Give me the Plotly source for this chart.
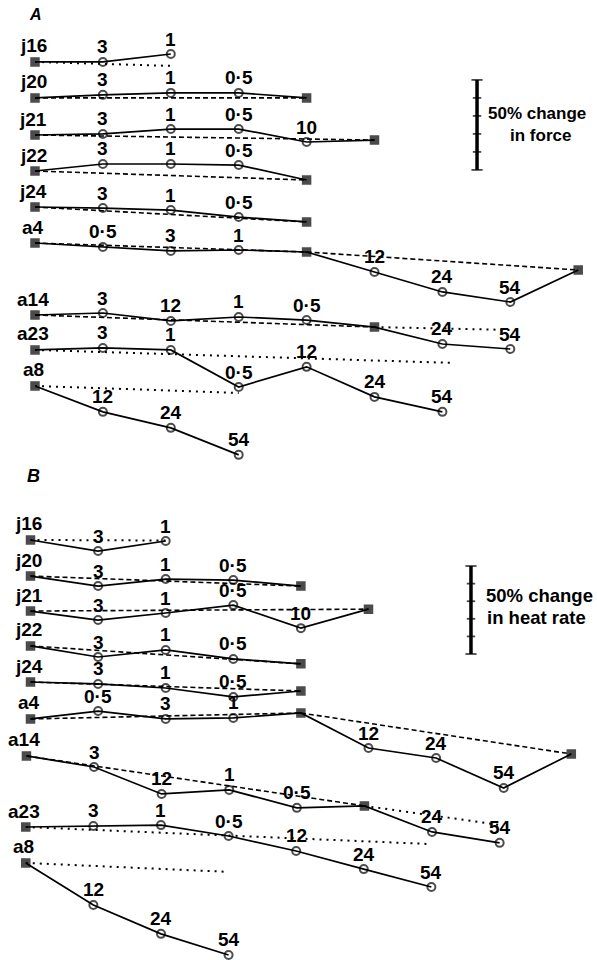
import plotly.graph_objects as go

# ---------------- data ----------------
rows = ["j16", "j20", "j21", "j22", "j24", "a4", "a14", "a23", "a8"]

# concentration applied at each successive measurement ("" = control, filled symbol)
conc = [
    ["", "3", "1"],
    ["", "3", "1", "0·5", ""],
    ["", "3", "1", "0·5", "10", ""],
    ["", "3", "1", "0·5", ""],
    ["", "3", "1", "0·5", ""],
    ["", "0·5", "3", "1", "", "12", "24", "54", ""],
    ["", "3", "12", "1", "0·5", "", "24", "54"],
    ["", "3", "1", "0·5", "12", "24", "54"],
    ["", "12", "24", "54"],
]

# Panel A: % change in force relative to the first control
force_pct = [
    [0, 0, 4.4],
    [0, 1.7, 2.8, 2.8, 0],
    [0, 0.6, 3.3, 3.3, -3.9, -2.8],
    [0, 3.9, 3.9, 3.3, -5.0],
    [0, -0.6, -1.7, -5.6, -8.3],
    [0, -2.2, -4.4, -3.9, -5.0, -16.1, -27.2, -32.8, -15.0],
    [0, 1.1, -3.3, -1.1, -2.8, -6.7, -16.1, -18.9],
    [0, 1.1, 0, -20.6, -9.4, -26.1, -34.4],
    [0, -14.4, -23.3, -38.3],
]

# Panel B: % change in heat rate relative to the first control
heat_pct = [
    [0, -6.3, -0.6],
    [0, -5.7, -1.7, -2.3, -5.7],
    [0, -5.1, -1.1, 3.4, -9.7, 1.1],
    [0, -6.3, -2.3, -7.4, -10.2],
    [0, -1.1, -3.4, -8.5, -5.1],
    [0, 4.5, 0, 0.6, 3.4, -16.5, -22.2, -39.2, -19.9],
    [0, -6.3, -21.6, -19.3, -29.5, -28.4, -43.2, -49.4],
    [0, 0.6, 1.1, -5.1, -13.6, -23.9, -34.1],
    [0, -23.9, -40.3, -52.3],
]

# dotted drift lines: start point index, end column, end value (%)
force_drift_from = [0, None, None, None, None, None, 5, 0, 0]
force_drift_to = [2, None, None, None, None, None, 7, 6.13, 3]
force_drift_end = [-2.2, None, None, None, None, None, -8.3, -7.2, -3.9]

heat_drift_from = [0, None, None, None, None, None, 5, 0, 0]
heat_drift_to = [2, None, None, None, None, None, 7, 6.0, 3]
heat_drift_end = [-0.3, None, None, None, None, None, -39.2, -9.7, -5.1]

scale_pct = [0, 10, 20, 30, 40, 50]

# ---------------- layout (positions) ----------------
W, H = 597, 960
A_px_per_col, A_x0 = 67.9, 35.0
B_px_per_col, B_x0 = 67.6, 30.5
A_px_per_pct, B_px_per_pct = 1.8, 1.76

A_base = [-34.4, -54.4, -75.0, -95.0, -115.0, -135.0, -175.0, -194.4, -214.4]
B_base = [-306.8, -327.3, -347.2, -367.0, -387.5, -408.5, -429.5, -469.9, -490.3]
A_dx = [0] * 9
B_dx = [0, 0, 0, 0, 0, 0, -0.06, -0.07, -0.07]

FONT = "Liberation Sans, Arial, sans-serif"
LBL = 19
YSH = 15
WEIGHT = "bold"

fig = go.Figure()
annotations = []


def lab_font(size):
    return dict(family=FONT, size=size, color="black", weight=WEIGHT)


def panel(pct, base, dx, dfrom, dto, dend, xa, ya):
    xr = "x" if xa == "x" else "x2"
    yr = "y" if ya == "y" else "y2"
    for i, name in enumerate(rows):
        vals = pct[i]
        labs = conc[i]
        xs = [k + dx[i] for k in range(len(vals))]
        ys = [base[i] + v for v in vals]
        ctrl = [k for k, l in enumerate(labs) if l == ""]
        # dashed lines joining controls
        for a, b in zip(ctrl[:-1], ctrl[1:]):
            fig.add_trace(go.Scatter(
                x=[xs[a], xs[b]], y=[ys[a], ys[b]], mode="lines",
                line=dict(color="black", width=1.6, dash="5px,3px"),
                xaxis=xa, yaxis=ya, hoverinfo="skip", showlegend=False))
        # dotted drift line
        if dfrom[i] is not None:
            k = dfrom[i]
            fig.add_trace(go.Scatter(
                x=[xs[k], dto[i] + dx[i]], y=[ys[k], base[i] + dend[i]],
                mode="lines",
                line=dict(color="black", width=2, dash="2px,5px"),
                xaxis=xa, yaxis=ya, hoverinfo="skip", showlegend=False))
        # solid line with markers
        symbols = ["square" if l == "" else "circle-open" for l in labs]
        sizes = [8 if l == "" else 8 for l in labs]
        lw = [1.5 if l == "" else 2 for l in labs]
        fig.add_trace(go.Scatter(
            x=xs, y=ys, mode="lines+markers",
            line=dict(color="black", width=1.7),
            marker=dict(symbol=symbols, size=sizes, color="black",
                        line=dict(color="black", width=lw)),
            xaxis=xa, yaxis=ya, hoverinfo="skip", showlegend=False))
        # labels
        annotations.append(dict(x=xs[0], y=ys[0], xref=xr, yref=yr, text=name,
                                showarrow=False, yshift=YSH + 1, xshift=-2,
                                font=lab_font(LBL)))
        for k, l in enumerate(labs):
            if l:
                annotations.append(dict(x=xs[k], y=ys[k], xref=xr, yref=yr,
                                        text=l, showarrow=False, yshift=YSH,
                                        font=lab_font(LBL)))


panel(force_pct, A_base, A_dx, force_drift_from, force_drift_to,
      force_drift_end, "x", "y")
panel(heat_pct, B_base, B_dx, heat_drift_from, heat_drift_to,
      heat_drift_end, "x2", "y2")

# scale bars (50 % change)
for xa, ya, xc, bottom in [("x", "y", 6.51, -94.4), ("x2", "y2", 6.516, -371.6)]:
    yy = [bottom + v for v in scale_pct]
    fig.add_trace(go.Scatter(
        x=[xc, xc], y=[yy[0], yy[-1]], mode="lines",
        line=dict(color="black", width=3.5),
        xaxis=xa, yaxis=ya, hoverinfo="skip", showlegend=False))
    fig.add_trace(go.Scatter(
        x=[xc] * len(yy), y=yy, mode="markers",
        marker=dict(symbol="line-ew", size=[8, 6, 6, 6, 6, 8],
                    line=dict(color="black", width=1.8)),
        xaxis=xa, yaxis=ya, hoverinfo="skip", showlegend=False))

annotations += [
    dict(x=7.40, y=-62.8, xref="x", yref="y", text="50% change",
         xanchor="center", showarrow=False, font=lab_font(17)),
    dict(x=7.45, y=-75.0, xref="x", yref="y", text="in force",
         xanchor="center", showarrow=False, font=lab_font(17)),
    dict(x=7.53, y=-338.6, xref="x2", yref="y2", text="50% change",
         xanchor="center", showarrow=False, font=lab_font(18.5)),
    dict(x=7.48, y=-350.6, xref="x2", yref="y2", text="in heat rate",
         xanchor="center", showarrow=False, font=lab_font(18.5)),
    dict(x=0.0, y=-8.3, xref="x", yref="y", text="<i>A</i>",
         showarrow=False, font=lab_font(16)),
    dict(x=0.04, y=-270.5, xref="x2", yref="y2", text="<i>B</i>",
         showarrow=False, font=lab_font(18)),
]

ax_common = dict(visible=False, showgrid=False, zeroline=False, fixedrange=True)
fig.update_layout(
    width=W, height=H,
    margin=dict(l=0, r=0, t=0, b=0),
    paper_bgcolor="white", plot_bgcolor="white",
    showlegend=False,
    xaxis=dict(range=[-A_x0 / A_px_per_col, (W - A_x0) / A_px_per_col],
               domain=[0, 1], **ax_common),
    yaxis=dict(range=[-H / A_px_per_pct, 0], domain=[0, 1], **ax_common),
    xaxis2=dict(range=[-B_x0 / B_px_per_col, (W - B_x0) / B_px_per_col],
                domain=[0, 1], overlaying="x", anchor="y2", **ax_common),
    yaxis2=dict(range=[-H / B_px_per_pct, 0], domain=[0, 1],
                overlaying="y", anchor="x2", **ax_common),
    annotations=annotations,
)

fig.write_html(
    "out.html",
    config={"displayModeBar": False, "staticPlot": True},
    post_script="document.body.style.margin='0px';"
                "document.body.style.overflow='hidden';",
)
